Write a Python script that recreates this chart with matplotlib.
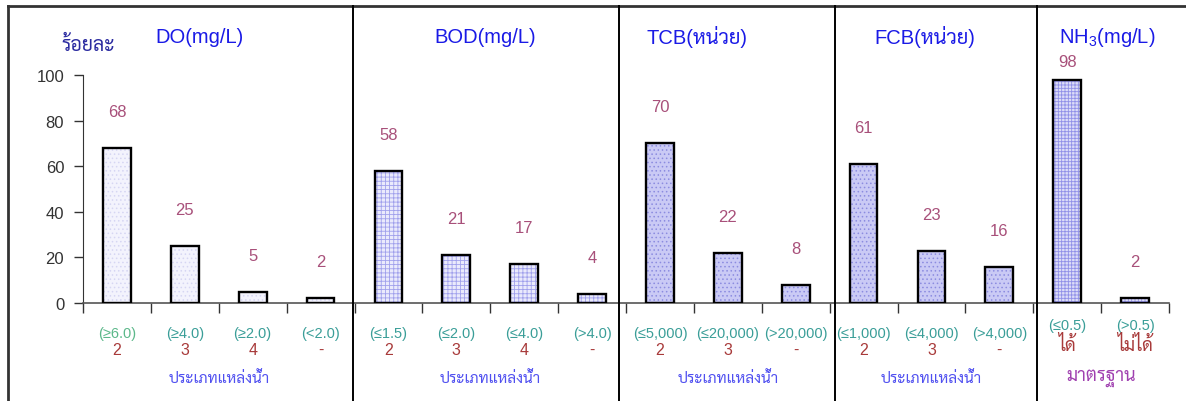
import matplotlib
matplotlib.use("Agg")
import matplotlib.pyplot as plt
from matplotlib.lines import Line2D

# percent of stations per class, one panel per parameter
do_vals = [68, 25, 5, 2]
bod_vals = [58, 21, 17, 4]
tcb_vals = [70, 22, 8]
fcb_vals = [61, 23, 16]
nh3_vals = [98, 2]

do_limits = ["(≥6.0)", "(≥4.0)", "(≥2.0)", "(<2.0)"]
bod_limits = ["(≤1.5)", "(≤2.0)", "(≤4.0)", "(>4.0)"]
tcb_limits = ["(≤5,000)", "(≤20,000)", "(>20,000)"]
fcb_limits = ["(≤1,000)", "(≤4,000)", "(>4,000)"]
nh3_limits = ["(≤0.5)", "(>0.5)"]

do_class = ["2", "3", "4", "-"]
bod_class = ["2", "3", "4", "-"]
tcb_class = ["2", "3", "-"]
fcb_class = ["2", "3", "-"]
nh3_class = ["ได้", "ไม่ได้"]

titles = ["DO(mg/L)", "BOD(mg/L)", "TCB(หน่วย)", "FCB(หน่วย)", "NH$_3$(mg/L)"]
group_labels = ["ประเภทแหล่งน้ำ", "ประเภทแหล่งน้ำ", "ประเภทแหล่งน้ำ",
                "ประเภทแหล่งน้ำ", "มาตรฐาน"]

FONT = ["Liberation Sans", "Sarabun", "Noto Sans Thai Looped", "Noto Sans Thai",
        "Anuphan", "DejaVu Sans"]
plt.rcParams["font.family"] = FONT
plt.rcParams["mathtext.fontset"] = "custom"
plt.rcParams["mathtext.rm"] = "Liberation Sans"
plt.rcParams["hatch.linewidth"] = 0.6

groups = [
    (do_vals, do_limits, do_class, "#f3f3fd", "....", "#d6d6f3"),
    (bod_vals, bod_limits, bod_class, "#eaeafc", "++++", "#a0a0ec"),
    (tcb_vals, tcb_limits, tcb_class, "#cacaf5", "....", "#8c8ce0"),
    (fcb_vals, fcb_limits, fcb_class, "#cacaf5", "....", "#8c8ce0"),
    (nh3_vals, nh3_limits, nh3_class, "#dcdcf8", "+++++", "#9090e8"),
]
title_x = [1.22, 5.42, 8.55, 11.9, 14.59]

fig = plt.figure(figsize=(11.86, 4.02), dpi=100)
ax = fig.add_axes([83 / 1186, 98 / 402, 1086 / 1186, 228 / 402])

pos = 0
for gi, (vals, limits, classes, face, hatch, hcol) in enumerate(groups):
    xs = list(range(pos, pos + len(vals)))
    ax.bar(xs, vals, width=0.41, color=face, hatch=hatch, edgecolor=hcol,
           linewidth=0, zorder=2)
    ax.bar(xs, vals, width=0.41, fill=False, edgecolor="black",
           linewidth=1.7, zorder=3)
    for x, v, lim, cl in zip(xs, vals, limits, classes):
        off = 8 if v > 90 else 16
        ax.text(x, v + off, str(v), ha="center", va="center", fontsize=12,
                color="#a8507a")
        lim_color = "#5cb88a" if x == 0 else "#3a9e98"
        if gi == 4:
            ax.text(x, -9.5, lim, ha="center", va="center", fontsize=10.5,
                    color=lim_color, clip_on=False)
            ax.text(x, -18, cl, ha="center", va="center", fontsize=13,
                    color="#a83a3a", clip_on=False)
        else:
            ax.text(x, -13, lim, ha="center", va="center", fontsize=10.5,
                    color=lim_color, clip_on=False)
            ax.text(x, -20.5, cl, ha="center", va="center", fontsize=11.5,
                    color="#a83a3a", clip_on=False)
    mid = (xs[0] + xs[-1]) / 2
    if gi == 4:
        ax.text(mid, -32.5, group_labels[gi], ha="center", va="center",
                fontsize=13, color="#a040b0", clip_on=False)
    else:
        ax.text(mid, -32.5, group_labels[gi], ha="center", va="center",
                fontsize=11, color="#5050f0", clip_on=False)
    ax.text(title_x[gi], 117, titles[gi], ha="center", va="center",
            fontsize=14.5, color="#1a1ae6", clip_on=False)
    pos += len(vals)

ax.text(-0.42, 113.5, "ร้อยละ", ha="center", va="center", fontsize=14,
        color="#2a2aa0", clip_on=False)

ax.set_xlim(-0.5, pos - 0.5)
ax.set_ylim(0, 100)
ax.set_yticks([0, 20, 40, 60, 80, 100])
ax.set_xticks([i - 0.5 for i in range(pos + 1)])
ax.set_xticklabels([])
ax.tick_params(axis="y", direction="out", length=6.5, width=1, pad=7,
               labelsize=12, labelcolor="#333333", color="#333333")
ax.tick_params(axis="x", direction="out", length=7, width=1, color="#333333")
for side in ("top", "right"):
    ax.spines[side].set_visible(False)
ax.spines["left"].set_color("#333333")
ax.spines["bottom"].set_color("#555555")
ax.spines["bottom"].set_linewidth(1.2)
ax.patch.set_alpha(0)

# outer frame and panel separators
W, H = 1186, 402
fig.add_artist(Line2D([8 / W, 1], [1 - 7 / H, 1 - 7 / H], color="#333333", lw=2))
fig.add_artist(Line2D([8 / W, 8 / W], [0, 1 - 7 / H], color="#333333", lw=2))
for px in (353, 619, 835, 1037):
    fig.add_artist(Line2D([px / W, px / W], [0, 1 - 7 / H], color="black", lw=1.4))

fig.savefig("out.png", dpi=100)
